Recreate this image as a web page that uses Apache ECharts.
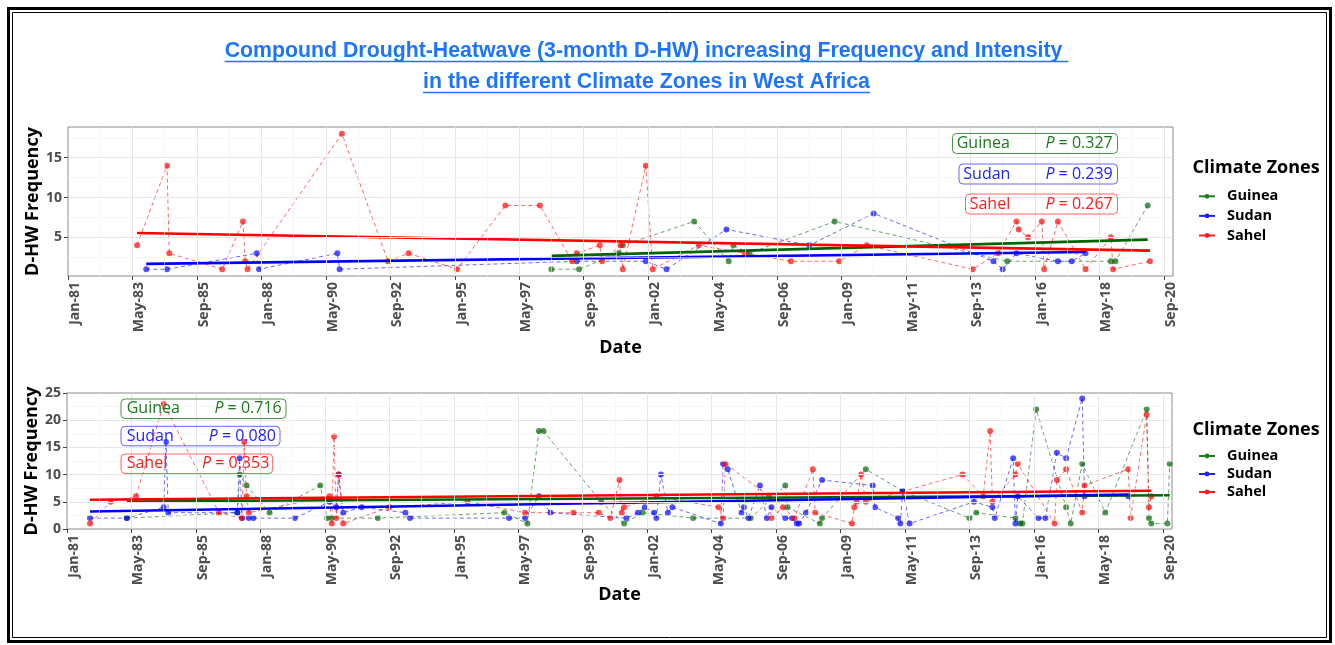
<!DOCTYPE html>
<html><head><meta charset="utf-8">
<script src="https://cdn.jsdelivr.net/npm/echarts@6/dist/echarts.min.js"></script>
<style>html,body{margin:0;padding:0;background:#fff}#c{width:1335px;height:645px}</style>
</head><body><div id="c"></div>
<script>
// ---------------- DATA ----------------
const zones = ['Guinea', 'Sudan', 'Sahel'];
const titleLines = ['Compound Drought-Heatwave (3-month D-HW) increasing Frequency and Intensity ',
                    'in the different Climate Zones in West Africa'];
const xTickMonths = [0,28,56,84,112,140,168,196,224,252,280,308,336,364,392,420,448,476]; // months since Jan-1981
const topYTicks = [5, 10, 15];
const botYTicks = [0, 5, 10, 15, 20, 25];
const topPValues = ['0.327', '0.239', '0.267'];
const botPValues = ['0.716', '0.080', '0.353'];

// Panel 1 (top)
const topGuinea = [['1998-07',1],['1999-07',1],['2000-12',3],['2001-02',4],['2003-09',7],['2004-12',2],['2005-02',4],
  ['2005-09',3],['2008-10',7],['2015-01',2],['2018-10',2],['2018-12',2],['2020-02',9]];
const topSudan = [['1983-11',1],['1984-08',1],['1987-11',3],['1987-12',1],['1990-10',3],['1990-11',1],['1999-06',2],
  ['2001-12',2],['2002-09',1],['2004-11',6],['2007-11',4],['2010-03',8],['2014-07',2],['2014-11',1],['2015-05',3],
  ['2016-11',2],['2017-05',2],['2017-11',3]];
const topSahel = [['1983-07',4],['1984-08',14],['1984-09',3],['1986-08',1],['1987-05',7],['1987-06',2],['1987-07',1],
  ['1990-12',18],['1992-08',2],['1993-05',3],['1995-02',1],['1996-11',9],['1998-02',9],['1999-04',2],['1999-06',3],
  ['2000-04',4],['2000-05',2],['2001-01',4],['2001-02',1],['2001-12',14],['2002-03',1],['2003-11',4],['2005-07',3],
  ['2007-03',2],['2008-12',2],['2009-12',4],['2013-10',1],['2014-09',3],['2015-05',7],['2015-06',6],['2015-10',5],
  ['2016-04',7],['2016-05',1],['2016-11',7],['2017-11',1],['2018-10',5],['2018-11',1],['2020-03',2]];
const topTrendGuinea = [['1998-07',2.67],['2020-02',4.71]];
const topTrendSudan  = [['1983-11',1.67],['2017-11',3.17]];
const topTrendSahel  = [['1983-07',5.55],['2020-03',3.34]];

// Panel 2 (bottom)
const botGuinea = [['1983-03',2],['1987-03',3],['1987-04',10],['1987-07',8],['1988-05',3],['1990-03',8],['1990-06',2],
  ['1990-08',2],['1992-04',2],['1996-11',3],['1997-09',1],['1998-02',18],['1998-04',18],['2000-05',5],['2001-03',1],
  ['2001-11',3],['2003-09',2],['2005-10',2],['2007-01',8],['2007-02',4],['2008-04',1],['2008-05',2],['2009-12',11],
  ['2011-04',7],['2013-09',2],['2013-12',3],['2015-05',2],['2015-07',1],['2015-08',1],['2016-02',22],['2017-03',4],
  ['2017-05',1],['2017-10',12],['2018-08',3],['2020-02',22],['2020-03',2],['2020-04',1],['2020-11',1],['2020-12',12]];
const botSudan = [['1981-11',2],['1983-03',2],['1984-07',4],['1984-08',16],['1984-09',3],['1987-03',3],['1987-04',13],
  ['1987-05',2],['1987-08',2],['1987-10',2],['1989-04',2],['1990-07',5],['1990-10',4],['1990-11',10],['1991-01',3],
  ['1991-09',4],['1993-04',3],['1993-06',2],['1997-01',2],['1997-08',2],['1998-02',6],['1998-07',3],['2001-04',2],
  ['2001-09',3],['2001-12',4],['2002-04',3],['2002-05',2],['2002-07',10],['2002-10',3],['2002-12',4],['2004-09',1],
  ['2004-10',12],['2004-12',11],['2005-06',3],['2005-07',4],['2005-09',2],['2006-02',8],['2006-05',2],['2006-07',4],
  ['2007-01',2],['2007-04',2],['2007-06',1],['2007-07',1],['2007-10',3],['2008-05',9],['2010-03',8],['2010-04',4],
  ['2011-02',2],['2011-03',1],['2011-04',7],['2011-07',1],['2013-11',5],['2014-07',4],['2014-08',2],['2015-04',13],
  ['2015-05',1],['2015-06',6],['2016-03',2],['2016-06',2],['2016-11',14],['2017-03',13],['2017-10',24],['2017-11',6],
  ['2019-06',6]];
const botSahel = [['1981-11',1],['1982-08',5],['1983-07',6],['1984-07',23],['1986-07',3],['1987-05',2],['1987-06',16],
  ['1987-07',6],['1987-08',3],['1990-07',6],['1990-08',1],['1990-09',17],['1990-10',2],['1990-11',10],['1991-01',1],
  ['1992-09',4],['1995-07',5],['1997-08',3],['1999-05',3],['2000-04',3],['2000-09',2],['2001-01',9],['2001-02',3],
  ['2001-03',4],['2002-05',6],['2004-08',4],['2004-10',2],['2004-11',12],['2006-06',6],['2006-07',2],['2006-12',4],
  ['2007-05',2],['2008-01',11],['2008-02',3],['2009-06',1],['2009-07',4],['2009-08',5],['2009-10',10],['2009-12',5],
  ['2013-06',10],['2014-03',6],['2014-06',18],['2014-07',5],['2015-05',10],['2015-06',12],['2016-10',1],['2016-11',9],
  ['2017-03',11],['2017-10',3],['2017-11',8],['2019-06',11],['2019-07',2],['2020-02',21],['2020-03',4],['2020-04',6]];
const botTrendGuinea = [['1983-03',5.06],['2020-12',6.2]];
const botTrendSudan  = [['1981-11',3.22],['2019-06',6.35]];
const botTrendSahel  = [['1981-11',5.37],['2020-04',7.04]];

// ---------------- STYLE / HELPERS ----------------
const monthNames = ['Jan','Feb','Mar','Apr','May','Jun','Jul','Aug','Sep','Oct','Nov','Dec'];
function toMonth(s) { const p = s.split('-').map(Number); return (p[0] - 1981) * 12 + (p[1] - 1); }
function fmtMonth(m) { const y = 1981 + Math.floor(m / 12); return monthNames[m % 12] + '-' + String(y % 100).padStart(2, '0'); }
function pts(arr) { return arr.map(d => [toMonth(d[0]), d[1]]); }

const rgb = { Guinea: [0, 100, 0], Sudan: [0, 0, 255], Sahel: [255, 0, 0] };
const rgba = (z, a) => 'rgba(' + rgb[z].join(',') + ',' + a + ')';
const textCol = { Guinea: '#1a7a1a', Sudan: '#2222ff', Sahel: '#ff1a1a' };
const legendCol = { Guinea: '#1e7f1e', Sudan: '#2020ff', Sahel: '#ff2020' };

const X_MAX = 480;
const panels = [
  { grid: { left: 68, top: 127, width: 1105, height: 149 }, ymin: 0.15, ymax: 18.85, yticks: topYTicks,
    yMajor: [5, 10, 15], yMinor: [2.5, 7.5, 12.5, 17.5],
    series: { Guinea: topGuinea, Sudan: topSudan, Sahel: topSahel },
    trend: { Guinea: topTrendGuinea, Sudan: topTrendSudan, Sahel: topTrendSahel }, nameGapX: 63 },
  { grid: { left: 67, top: 393, width: 1105, height: 136 }, ymin: 0, ymax: 25, yticks: botYTicks,
    yMajor: [5, 10, 15, 20], yMinor: [2.5, 7.5, 12.5, 17.5, 22.5],
    series: { Guinea: botGuinea, Sudan: botSudan, Sahel: botSahel },
    trend: { Guinea: botTrendGuinea, Sudan: botTrendSudan, Sahel: botTrendSahel }, nameGapX: 57 }
];
const xMajorGrid = xTickMonths.filter(m => m > 0 && m < X_MAX);
const xMinorGrid = xTickMonths.map(m => m + 14).filter(m => m < X_MAX);

const axisLabelFont = { fontFamily: 'Open Sans', fontWeight: 'bold', fontSize: 14, color: '#4d4d4d' };
const axisNameFont = { fontFamily: 'Open Sans', fontWeight: 'bold', fontSize: 18, color: '#000' };

const grids = [], xAxes = [], yAxes = [], series = [];
panels.forEach((p, i) => {
  grids.push(Object.assign({ show: true, borderColor: '#8a8a8a', borderWidth: 1, backgroundColor: 'transparent', containLabel: false }, p.grid));
  xAxes.push({
    type: 'value', gridIndex: i, min: 0, max: X_MAX,
    name: 'Date', nameLocation: 'middle', nameGap: p.nameGapX, nameTextStyle: axisNameFont, nameMoveOverlap: false,
    axisLine: { show: false }, splitLine: { show: false },
    axisTick: { show: true, length: 4, lineStyle: { color: '#444', width: 1 }, customValues: xTickMonths },
    axisLabel: Object.assign({ rotate: 90, margin: 6, verticalAlign: 'top', customValues: xTickMonths,
      formatter: v => fmtMonth(Math.round(v)) }, axisLabelFont)
  });
  yAxes.push({
    type: 'value', gridIndex: i, min: p.ymin, max: p.ymax,
    name: 'D-HW Frequency', nameLocation: 'middle', nameGap: 26, nameTextStyle: axisNameFont, nameMoveOverlap: false,
    axisLine: { show: false }, splitLine: { show: false },
    axisTick: { show: true, length: 4, lineStyle: { color: '#444', width: 1 }, customValues: p.yticks },
    axisLabel: Object.assign({ margin: 6, customValues: p.yticks }, axisLabelFont)
  });
  // gridlines
  const ml = [];
  xMinorGrid.forEach(v => ml.push({ xAxis: v, lineStyle: { color: '#f0f0f0', width: 0.6, type: 'solid' } }));
  p.yMinor.forEach(v => ml.push({ yAxis: v, lineStyle: { color: '#f0f0f0', width: 0.6, type: 'solid' } }));
  xMajorGrid.forEach(v => ml.push({ xAxis: v, lineStyle: { color: '#e6e6e6', width: 1, type: 'solid' } }));
  p.yMajor.forEach(v => ml.push({ yAxis: v, lineStyle: { color: '#e6e6e6', width: 1, type: 'solid' } }));
  series.push({ type: 'line', name: 'grid' + i, xAxisIndex: i, yAxisIndex: i, data: [], z: 1, silent: true,
    markLine: { silent: true, symbol: ['none', 'none'], label: { show: false }, animation: false, data: ml } });
  zones.forEach(z => {
    series.push({
      type: 'line', name: z, xAxisIndex: i, yAxisIndex: i, data: pts(p.series[z]), z: 2,
      symbol: 'circle', symbolSize: 6, showSymbol: true, showAllSymbol: true,
      lineStyle: { type: [4, 3], width: 1, color: rgba(z, 0.6) },
      itemStyle: { color: rgba(z, 0.68) },
      emphasis: { disabled: true }
    });
  });
  zones.forEach(z => {
    series.push({
      type: 'line', name: z + ' trend ' + i, xAxisIndex: i, yAxisIndex: i, data: pts(p.trend[z]), z: 3,
      symbol: 'none', lineStyle: { type: 'solid', width: 2.6, color: rgba(z, 1) }, emphasis: { disabled: true }
    });
  });
});

// legends
const legendData = zones.map(z => ({ name: z,
  itemStyle: { color: legendCol[z], opacity: 1 }, lineStyle: { color: legendCol[z], width: 2, type: 'solid', opacity: 1 } }));
const legendBase = {
  orient: 'vertical', left: 1193, itemWidth: 16, itemHeight: 6, itemGap: 0, selectedMode: false,
  textStyle: { fontFamily: 'Open Sans', fontWeight: 'bold', fontSize: 14.5, color: '#000', lineHeight: 19.6, padding: [0, 0, 0, 7] },
  data: legendData
};
const legends = [Object.assign({}, legendBase, { top: 181.5 }), Object.assign({}, legendBase, { top: 442, textStyle: Object.assign({}, legendBase.textStyle, { lineHeight: 18 }) })];

// graphic: frame, title, underline, legend titles, P-value labels
const measure = (() => { const c = document.createElement('canvas').getContext('2d');
  return (txt, font) => { c.font = font; return c.measureText(txt).width; }; })();
const titleFont = 'bold 21.3px "Liberation Sans", Arial, sans-serif';
const titleColor = '#1f74ff';
const graphic = [
  { type: 'rect', shape: { x: 8.5, y: 8.5, width: 1322, height: 633 }, style: { fill: 'none', stroke: '#000', lineWidth: 3 }, z: 100, silent: true },
  { type: 'rect', shape: { x: 12.5, y: 12.5, width: 1314, height: 625 }, style: { fill: 'none', stroke: '#000', lineWidth: 1 }, z: 100, silent: true }
];
const titleY = [51, 82];
titleLines.forEach((t, k) => {
  const w = measure(t, titleFont);
  graphic.push({ type: 'text', x: 646.5, y: titleY[k], style: { text: t, font: titleFont, fill: titleColor, align: 'center', verticalAlign: 'middle' }, z: 100, silent: true });
  graphic.push({ type: 'line', shape: { x1: 646.5 - w / 2, y1: titleY[k] + 10.5, x2: 646.5 + w / 2, y2: titleY[k] + 10.5 }, style: { stroke: titleColor, lineWidth: 1.5 }, z: 100, silent: true });
});
[168.3, 429.5].forEach(y => graphic.push({ type: 'text', x: 1192.5, y: y,
  style: { text: 'Climate Zones', font: 'bold 18px "Open Sans"', fill: '#000', align: 'left', verticalAlign: 'middle' }, z: 100, silent: true }));

const boxes = [
  { pv: topPValues, rects: [[952.5, 133.5, 165, 20], [959, 164, 158.5, 20], [965.5, 194, 152, 20]], right: 1112.7, left: [956.7, 963.3, 969.7] },
  { pv: botPValues, rects: [[121, 399, 165, 19.5], [121, 426.3, 159, 19.5], [121, 454, 151.7, 19.5]], right: [281.7, 276, 269.3], left: [126.7, 126.7, 126.7] }
];
boxes.forEach(b => {
  zones.forEach((z, k) => {
    const r = b.rects[k];
    const cy = r[1] + r[3] / 2;
    const right = Array.isArray(b.right) ? b.right[k] : b.right;
    graphic.push({ type: 'rect', shape: { x: r[0], y: r[1], width: r[2], height: r[3], r: 4 },
      style: { fill: 'none', stroke: rgba(z, z === 'Guinea' ? 0.7 : 0.6), lineWidth: 1 }, z: 100, silent: true });
    graphic.push({ type: 'text', x: b.left[k], y: cy, style: { text: z, font: '16px "Open Sans"', fill: textCol[z], align: 'left', verticalAlign: 'middle' }, z: 101, silent: true });
    graphic.push({ type: 'text', x: right, y: cy, style: { text: '{i|P} = ' + b.pv[k], font: '16px "Open Sans"', fill: textCol[z], align: 'right', verticalAlign: 'middle',
      rich: { i: { fontStyle: 'italic', fontFamily: 'Open Sans', fontSize: 16, fill: textCol[z] } } }, z: 101, silent: true });
  });
});

const chart = echarts.init(document.getElementById('c'), null, { renderer: 'canvas' });
chart.setOption({
  animation: false,
  backgroundColor: '#fff',
  grid: grids, xAxis: xAxes, yAxis: yAxes, series: series,
  legend: legends, graphic: graphic
});
</script></body></html>
